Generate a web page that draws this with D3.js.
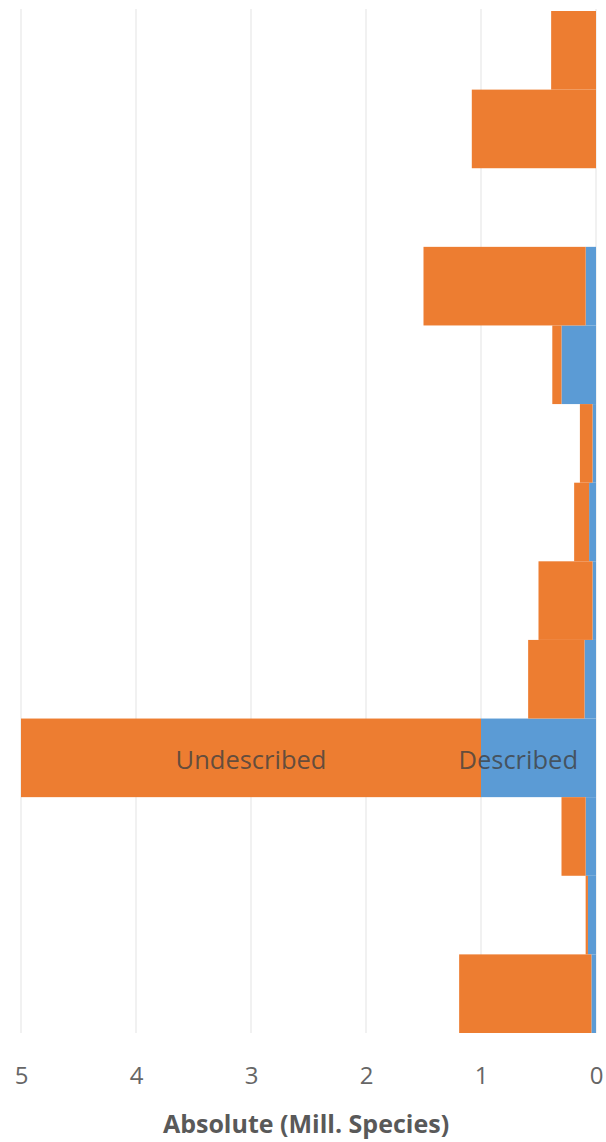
<!DOCTYPE html>
<html>
<head>
<meta charset="utf-8">
<script src="https://cdn.jsdelivr.net/npm/d3@7"></script>
<style>
  body { margin: 0; background: #fff; }
  svg { display: block; font-family: "Open Sans", "Noto Sans", sans-serif; }
</style>
</head>
<body>
<div id="chart"></div>
<script>
// Rows from top to bottom (no category labels are shown on the chart)
const rows = ["r1", "r2", "r3", "r4", "r5", "r6", "r7", "r8", "r9", "r10", "r11", "r12", "r13"];

// Million species per row
const described = [0, 0, 0, 0.09, 0.30, 0.03, 0.06, 0.03, 0.10, 1.0, 0.09, 0.07, 0.04];
const undescribed = [0.39, 1.08, 0, 1.41, 0.08, 0.11, 0.13, 0.47, 0.49, 4.0, 0.21, 0.02, 1.15];

const xTicks = [5, 4, 3, 2, 1, 0];
const seriesNames = ["Described", "Undescribed"];
const labelRow = "r10";

// Set up dimensions
const WIDTH = 606;
const HEIGHT = 1142;
const PLOT = { left: 21, right: 596, top: 11, bottom: 1033 };

const svg = d3
	.select("#chart")
	.append("svg")
	.attr("width", WIDTH)
	.attr("height", HEIGHT);

const x = d3.scaleLinear().domain([5, 0]).range([PLOT.left, PLOT.right]);
const y = d3.scaleBand().domain(rows).range([PLOT.top, PLOT.bottom]).padding(0);

const color = d3.scaleOrdinal().domain(seriesNames).range(["#5B9BD5", "#ED7D31"]);

// Gridlines
svg.append("g")
	.selectAll("line")
	.data(xTicks)
	.enter()
	.append("line")
	.attr("x1", (d) => x(d))
	.attr("x2", (d) => x(d))
	.attr("y1", PLOT.top - 2)
	.attr("y2", PLOT.bottom)
	.attr("stroke", "#e3e3e3")
	.attr("stroke-width", 1);

// Stacked bars
const table = rows.map((r, i) => ({ row: r, Described: described[i], Undescribed: undescribed[i] }));
const stacked = d3.stack().keys(seriesNames)(table);

const layers = svg
	.append("g")
	.selectAll("g")
	.data(stacked)
	.enter()
	.append("g")
	.attr("fill", (d) => color(d.key));

layers
	.selectAll("rect")
	.data((d) => d)
	.enter()
	.append("rect")
	.attr("x", (d) => x(d[1]))
	.attr("y", (d) => y(d.data.row))
	.attr("width", (d) => x(d[0]) - x(d[1]))
	.attr("height", y.bandwidth());

// Data labels on the largest row
const labelIdx = rows.indexOf(labelRow);
const cy = y(labelRow) + y.bandwidth() / 2;

svg.append("text")
	.attr("x", (x(stacked[1][labelIdx][0]) + x(stacked[1][labelIdx][1])) / 2)
	.attr("y", cy + 2)
	.attr("dy", "0.35em")
	.attr("text-anchor", "middle")
	.attr("font-size", 25.5)
	.attr("fill", "#404040")
	.attr("fill-opacity", 0.8)
	.text("Undescribed");

svg.append("text")
	.attr("x", x(0) - 18)
	.attr("y", cy + 2)
	.attr("dy", "0.35em")
	.attr("text-anchor", "end")
	.attr("font-size", 25.5)
	.attr("fill", "#404040")
	.attr("fill-opacity", 0.8)
	.text("Described");

// X axis
const xAxis = d3.axisBottom(x).tickValues(xTicks).tickSize(0).tickPadding(0).tickFormat(d3.format("d"));
const gx = svg.append("g").attr("transform", `translate(0, ${PLOT.bottom})`).call(xAxis);
gx.select(".domain").remove();
gx.selectAll("text")
	.attr("y", 51)
	.attr("dy", 0)
	.attr("font-size", 24)
	.attr("font-family", "'Open Sans', sans-serif")
	.attr("fill", "#666");

// Axis title
svg.append("text")
	.attr("x", 306)
	.attr("y", 1133)
	.attr("text-anchor", "middle")
	.attr("font-size", 25)
	.attr("font-weight", "bold")
	.attr("fill", "#595959")
	.text("Absolute (Mill. Species)");
</script>
</body>
</html>
